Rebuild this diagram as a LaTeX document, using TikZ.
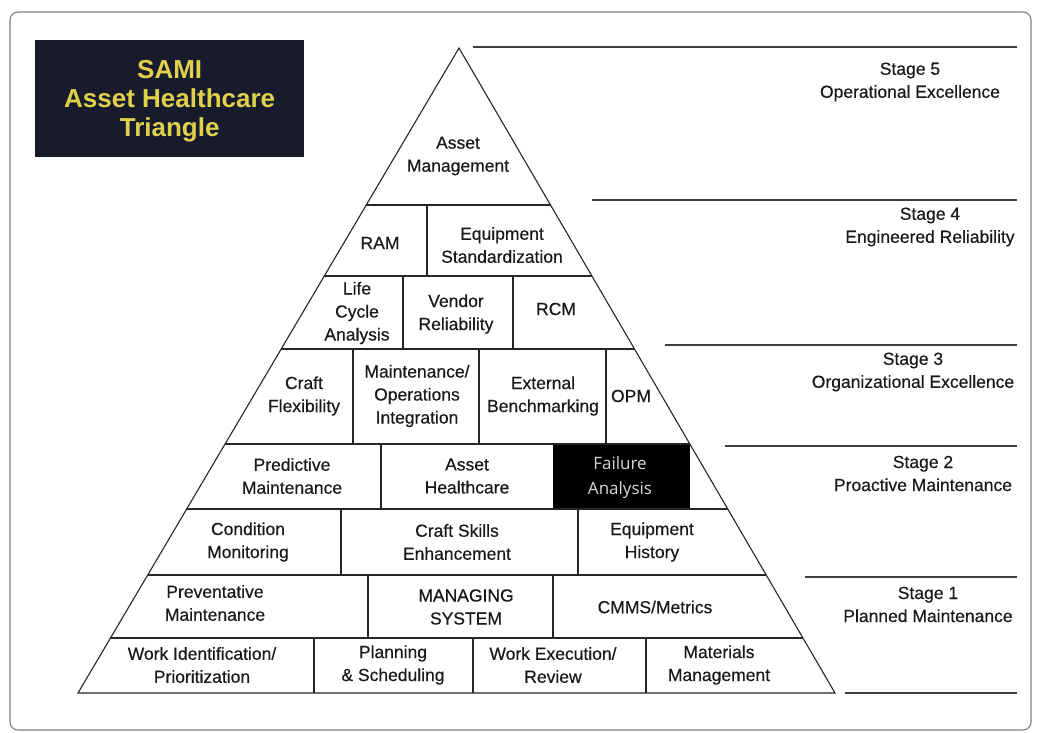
\documentclass[tikz,border=0pt]{standalone}
\usepackage{fontspec}
\setmainfont{Liberation Sans}
\newfontfamily\heavy{Liberation Sans}[FakeBold=0.35]
\newfontfamily\fafont{Open Sans}
\usetikzlibrary{calc}
\definecolor{navy}{HTML}{171B2B}
\definecolor{gold}{HTML}{E0D04C}
\definecolor{lightfa}{HTML}{D8D8D8}
\begin{document}
\begin{tikzpicture}[x=1pt,y=-1pt,
  cell/.style={align=center,font=\heavy\fontsize{17.5}{23}\selectfont,inner sep=0pt,text=black!90},
  stagelbl/.style={align=center,font=\heavy\fontsize{17.5}{23}\selectfont,inner sep=0pt,text=black!90},
  pyr/.style={line width=1.1pt,black!85,line join=miter},
  stageline/.style={line width=1.4pt,black!75},
  frame/.style={draw=black!50,line width=1.1pt,rounded corners=8pt}
]
\useasboundingbox (0,0) rectangle (1037,733);
\fill[white] (0,0) rectangle (1037,733);
\draw[frame] (10,12) rectangle (1031,730);

% title box
\node[fill=navy,minimum width=269pt,minimum height=117pt,inner sep=0pt,anchor=north west] (title) at (35,40) {};
\node[text=gold,font=\bfseries\fontsize{26}{29}\selectfont,align=center,inner sep=0pt] (ttext) at ([yshift=-2pt]title.center) {SAMI\\Asset Healthcare\\Triangle};

% pyramid geometry
\coordinate (A) at (459,48);
\coordinate (BL) at (78,693);
\coordinate (BR) at (835,693);
\foreach \n/\t in {1/0.2434,2/0.3535,3/0.4667,4/0.6140,5/0.7147,6/0.8171,7/0.9147}{
  \coordinate (L\n) at ($(A)!\t!(BL)$);
  \coordinate (R\n) at ($(A)!\t!(BR)$);
}
% failure analysis box
\fill[black] (553,444) rectangle (R4 |- 0,509);

\draw[pyr] (A) -- (BL) -- (BR) -- cycle;
\foreach \n in {1,...,7}{ \draw[pyr] (L\n) -- (R\n); }
% dividers
\foreach \x/\ya/\yb in {427/205/276, 403/276/349, 513/276/349,
  353/349/444, 479/349/444, 606/349/444, 381/444/509,
  341/509/575, 578/509/575, 368/575/638, 553/575/638,
  314/638/693, 473/638/693, 646/638/693}{
  \draw[pyr] (\x,\ya) -- (\x,\yb);
}

% cells
\node[cell] (am) at (458,156) {Asset\\Management};
\node[cell] (ram) at (380,243) {RAM};
\node[cell] (es) at (502,245) {Equipment\\Standardization};
\node[cell] (lca) at (357,313) {Life\\Cycle\\Analysis};
\node[cell] (vr) at (456,314) {Vendor\\Reliability};
\node[cell] (rcm) at (556,309) {RCM};
\node[cell] (cf) at (304,396) {Craft\\Flexibility};
\node[cell] (moi) at (417,396) {Maintenance/\\Operations\\Integration};
\node[cell] (eb) at (543,396) {External\\Benchmarking};
\node[cell] (opm) at (631,396) {OPM};
\node[cell] (pm) at (292,476) {Predictive\\Maintenance};
\node[cell] (ah) at (467,476) {Asset\\Healthcare};
\node[cell,text=lightfa,font=\fafont\fontsize{17}{25}\selectfont] (fa) at (620,477.5) {Failure\\Analysis};
\node[cell] (cm) at (248,542) {Condition\\Monitoring};
\node[cell] (cse) at (457,542) {Craft Skills\\Enhancement};
\node[cell] (eh) at (652,542) {Equipment\\History};
\node[cell] (prm) at (215,603) {Preventative\\Maintenance};
\node[cell] (ms) at (466,607) {MANAGING\\SYSTEM};
\node[cell] (cmms) at (655,607) {CMMS/Metrics};
\node[cell] (wip) at (202,665) {Work Identification/\\Prioritization};
\node[cell] (ps) at (393,665) {Planning\\\& Scheduling};
\node[cell] (wer) at (553,665) {Work Execution/\\Review};
\node[cell] (mm) at (719,665) {Materials\\Management};

% stage lines
\draw[stageline] (473,47) -- (1017,47);
\draw[stageline] (592,200) -- (1017,200);
\draw[stageline] (665,345) -- (1017,345);
\draw[stageline] (725,446) -- (1017,446);
\draw[stageline] (805,577) -- (1017,577);
\draw[stageline] (845,693) -- (1017,693);

% stage labels
\node[stagelbl] (s5) at (910,82) {Stage 5\\Operational Excellence};
\node[stagelbl] (s4) at (930,227) {Stage 4\\Engineered Reliability};
\node[stagelbl] (s3) at (913,372) {Stage 3\\Organizational Excellence};
\node[stagelbl] (s2) at (923,473.5) {Stage 2\\Proactive Maintenance};
\node[stagelbl] (s1) at (928,604.5) {Stage 1\\Planned Maintenance};
\end{tikzpicture}
\end{document}
